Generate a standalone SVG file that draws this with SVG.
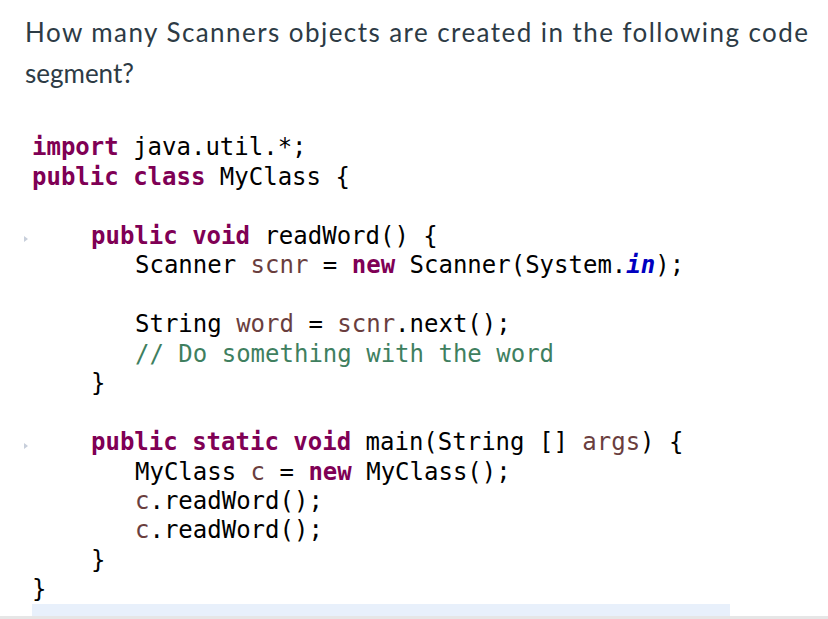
<svg xmlns="http://www.w3.org/2000/svg" width="828" height="619" viewBox="0 0 828 619">
<style>
.q{font-family:Lato,"Liberation Sans",sans-serif;font-size:26px;fill:#2d3b45}
.c{font-family:"DejaVu Sans Mono","Liberation Mono",monospace;font-size:24px;fill:#000}
.k{fill:#7f0055;font-weight:bold}
.v{fill:#6a3e3e}
.m{fill:#3f7f5f}
.f{fill:#0000c0;font-weight:bold;font-style:italic}
</style>
<rect width="828" height="619" fill="#fff"/>
<text class="q" x="25" y="42" textLength="783">How many Scanners objects are created in the following code</text>
<text class="q" x="25" y="83">segment?</text>
<g id="code">
<text class="c" x="32" y="155"><tspan class="k">import</tspan> java.util.*;</text>
<text class="c" x="32" y="185"><tspan class="k">public</tspan> <tspan class="k">class</tspan> MyClass {</text>
<text class="c" x="91" y="244"><tspan class="k">public</tspan> <tspan class="k">void</tspan> readWord() {</text>
<text class="c" x="135" y="273">Scanner <tspan class="v">scnr</tspan> = <tspan class="k">new</tspan> Scanner(System.<tspan class="f">in</tspan>);</text>
<text class="c" x="135" y="332">String <tspan class="v">word</tspan> = <tspan class="v">scnr</tspan>.next();</text>
<text class="c m" x="135" y="362">// Do something with the word</text>
<text class="c" x="91" y="391">}</text>
<text class="c" x="91" y="450"><tspan class="k">public</tspan> <tspan class="k">static</tspan> <tspan class="k">void</tspan> main(String [] <tspan class="v">args</tspan>) {</text>
<text class="c" x="135" y="480">MyClass <tspan class="v">c</tspan> = <tspan class="k">new</tspan> MyClass();</text>
<text class="c" x="135" y="509"><tspan class="v">c</tspan>.readWord();</text>
<text class="c" x="135" y="538"><tspan class="v">c</tspan>.readWord();</text>
<text class="c" x="91" y="568">}</text>
<text class="c" x="32" y="597">}</text>
</g>
<path d="M24 236 L28 239 L24 242Z M24 443 L28 446 L24 449Z" fill="#c8cfdb"/>
<rect x="32" y="604" width="698" height="12" fill="#e8f0fb"/>
<rect x="0" y="616" width="828" height="3" fill="#e6e6e6"/>
</svg>
